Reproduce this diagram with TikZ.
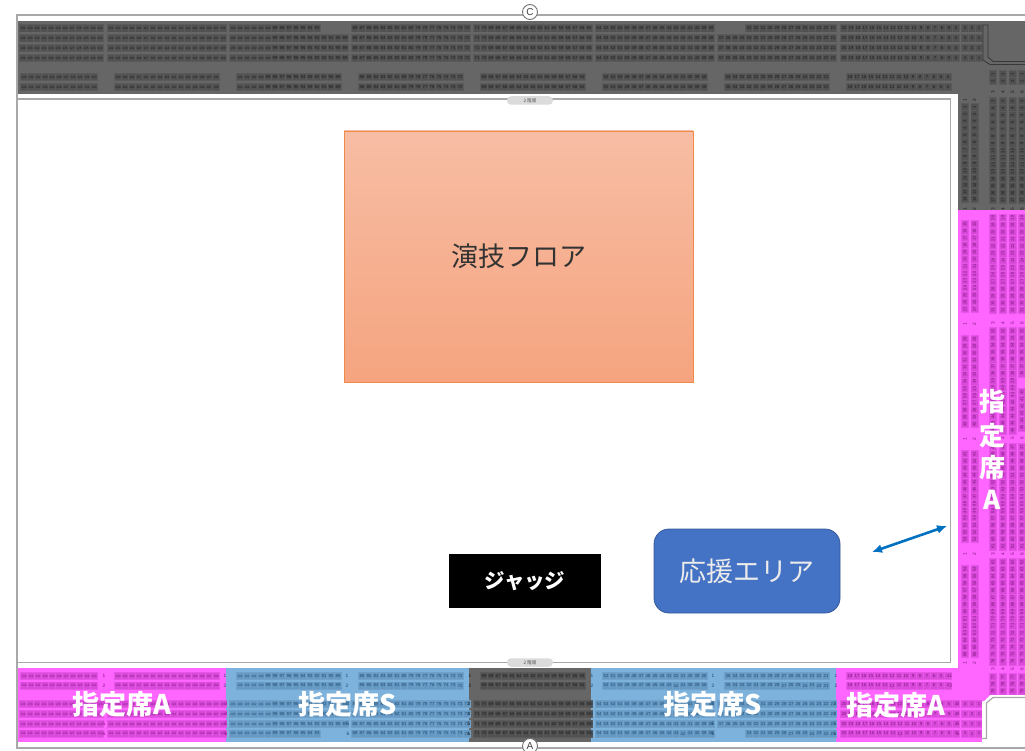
\documentclass[tikz,border=0pt]{standalone}
\usepackage{fontspec}
\setmainfont{Noto Sans CJK JP}
\newfontfamily\seatfont{Liberation Sans}
\definecolor{blkgray}{HTML}{5A5A5A}
\definecolor{cellgray}{HTML}{515151}
\definecolor{numgray}{HTML}{1C1C1C}
\definecolor{blkpink}{HTML}{E656E6}
\definecolor{cellpink}{HTML}{D94ADA}
\definecolor{numpink}{HTML}{7E177E}
\definecolor{blkblue}{HTML}{6FA1CB}
\definecolor{cellblue}{HTML}{6598C3}
\definecolor{numblue}{HTML}{1F4A6C}
\definecolor{zonegray}{HTML}{666666}
\definecolor{zonepink}{HTML}{FF66FF}
\definecolor{zoneblue}{HTML}{7DB2DC}
\definecolor{framegray}{HTML}{A8A8A8}
\definecolor{orangetop}{HTML}{F7BDA4}
\definecolor{orangebot}{HTML}{F5A47F}
\definecolor{orangeline}{HTML}{EE8A4A}
\definecolor{cheerblue}{HTML}{4472C4}
\definecolor{arrowblue}{HTML}{0070C0}
\usetikzlibrary{arrows.meta}
\tikzset{
  seatnum/.style={inner sep=0pt,font=\seatfont\fontsize{4.3}{4.3}\selectfont},
  rowlabel/.style={inner sep=0pt,font=\seatfont\fontsize{4.8}{4.8}\selectfont},
  frameline/.style={draw=framegray,line width=1.2pt},
  pill/.style={draw=none,fill=black!14,rounded corners=4pt,minimum width=46pt,minimum height=8.5pt,inner sep=0pt,font=\fontsize{4.6}{4.6}\selectfont,text=black!70},
  circlab/.style={circle,draw=black!55,fill=white,line width=0.9pt,minimum size=15pt,inner sep=0pt,font=\seatfont\fontsize{10}{10}\selectfont,text=black!75},
  seatlabel/.style={inner sep=0pt,text=white,font=\fontsize{27}{27}\selectfont\bfseries},
  vlabel/.style={inner sep=0pt,text=white,font=\fontsize{26}{26}\selectfont\bfseries},
  floorbox/.style={draw=orangeline,line width=0.8pt,top color=orangetop,bottom color=orangebot,minimum width=349pt,minimum height=251pt,inner sep=0pt,text=black!80,font=\fontsize{27}{27}\selectfont},
  judgebox/.style={fill=black,minimum width=152pt,minimum height=54pt,inner sep=0pt,text=white,font=\fontsize{20.5}{20.5}\selectfont\bfseries},
  cheerbox/.style={fill=cheerblue,draw=cheerblue!80!black,line width=0.8pt,rounded corners=15pt,minimum width=186pt,minimum height=84pt,inner sep=0pt,text=black!8,font=\fontsize{27}{27}\selectfont},
  twoway/.style={draw=arrowblue,line width=2.6pt,{Latex[length=10pt,width=9pt]}-{Latex[length=10pt,width=9pt]}}
}
% x0, y, first number, count, zone
\newcommand\hseats[5]{%
  \fill[blk#5] (#1,#2-4) rectangle (#1+7*#4+1,#2+4);
  \draw[cell#5,line width=6.2pt,dash pattern=on 6pt off 1pt] (#1+1,#2) -- (#1+7*#4+1,#2);
  \pgfmathtruncatemacro\lastidx{#4-1}%
  \foreach \i in {0,...,\lastidx}{%
    \pgfmathtruncatemacro\nn{#3-\i}%
    \path (#1+4+7*\i,#2) node[seatnum,text=num#5]{\ifnum\nn>99 \fontsize{3.1}{3.1}\selectfont\fi\nn};
  }%
}
% x0, y0, first number, count, zone
\newcommand\vseats[5]{%
  \fill[blk#5] (#1,#2) rectangle (#1+8,#2+7.1*#4+1);
  \draw[cell#5,line width=6.2pt,dash pattern=on 6.1pt off 1pt] (#1+4,#2+1) -- (#1+4,#2+7.1*#4+1);
  \pgfmathtruncatemacro\lastidx{#4-1}%
  \foreach \i in {0,...,\lastidx}{%
    \pgfmathtruncatemacro\nn{#3+\i}%
    \path (#1+4,#2+4+7.1*\i) node[seatnum,text=num#5,rotate=90]{\nn};
  }%
}
\newcommand\longrow[1]{%
  \hseats{19}{#1}{134}{12}{\zA}\hseats{107}{#1}{122}{17}{\zA}%
  \hseats{229}{#1}{105}{17}{\zB}\hseats{351}{#1}{88}{17}{\zB}%
  \hseats{473}{#1}{71}{17}{\zC}\hseats{595}{#1}{54}{17}{\zB}%
  \hseats{717}{#1}{37}{17}{\zB}\hseats{840}{#1}{20}{17}{\zD}%
  \hseats{961}{#1}{3}{3}{\zD}%
}
\newcommand\shortrow[1]{%
  \hseats{19}{#1}{134}{12}{\zA}\hseats{107}{#1}{122}{17}{\zA}%
  \hseats{229}{#1}{105}{13}{\zB}\hseats{351}{#1}{88}{17}{\zB}%
  \hseats{473}{#1}{71}{17}{\zC}\hseats{595}{#1}{54}{17}{\zB}%
  \hseats{745}{#1}{33}{13}{\zB}\hseats{840}{#1}{20}{17}{\zD}%
  \hseats{961}{#1}{3}{3}{\zD}%
}
\newcommand\gaprow[1]{%
  \hseats{20}{#1}{133}{11}{\zA}\hseats{114}{#1}{120}{15}{\zA}%
  \hseats{236}{#1}{103}{15}{\zB}\hseats{358}{#1}{86}{15}{\zB}%
  \hseats{480}{#1}{69}{15}{\zC}\hseats{602}{#1}{52}{15}{\zB}%
  \hseats{724}{#1}{35}{15}{\zB}\hseats{846}{#1}{18}{15}{\zD}%
}
\newcommand\rowlabels[3]{%
  \foreach \xx in {#1}{\path (\xx,#2) node[rowlabel,text=#3]{\rownum};}%
}
\begin{document}
\begin{tikzpicture}[x=1pt,y=-1pt]
\useasboundingbox (0,0) rectangle (1025,751);
\fill[white] (0,0) rectangle (1025,751);
% frames
\draw[frameline] (1025,15) -- (17,15) -- (17,748) -- (1025,748);
% zones
\fill[zonegray] (18,21) rectangle (1025,94);
\fill[zonegray] (958,94) rectangle (1025,210);
\fill[zonepink] (958,210) rectangle (1025,695);
\fill[zonepink] (958,668) rectangle (982,742);
\fill[zonepink] (18,668) rectangle (226,742);
\fill[zoneblue] (226,668) rectangle (469,742);
\fill[zonegray] (469,668) rectangle (591,742);
\fill[zoneblue] (591,668) rectangle (836,742);
\fill[zonepink] (836,668) rectangle (982,742);
% inner arena line
\draw[frameline] (17,99) -- (950.5,99) -- (950.5,662.5) -- (17,662.5);
% horizontal seats, top
\def\zA{gray}\def\zB{gray}\def\zC{gray}\def\zD{gray}
\shortrow{28.5}\longrow{38.5}\longrow{48}\longrow{58}
\gaprow{77}\gaprow{87}
% horizontal seats, bottom
\def\zA{pink}\def\zB{blue}\def\zC{gray}\def\zD{pink}
\gaprow{676}\gaprow{685.5}
\longrow{704}\longrow{714}\longrow{724}\shortrow{733.5}
% row labels
\def\rowxs{104,226,348,469,592,713,835,958}
\def\gapxs{104,225,347,470,592,713,836,951}
\foreach \yy/\rownum in {28.5/6,38.5/5,48/4,58/3}{\rowlabels{\rowxs}{\yy}{black!75}}
\foreach \yy/\rownum in {77/2,87/1}{\rowlabels{\gapxs}{\yy}{black!75}}
\foreach \yy/\rownum in {704/3,714/4,724/5,733.5/6}{\foreach \xx/\cc in {104/numpink,226/numpink,348/numblue,469/numgray,592/numblue,713/numblue,835/numblue,958/numpink}{\path (\xx,\yy) node[rowlabel,text=\cc]{\rownum};}}
\foreach \yy/\rownum in {676/1,685.5/2}{\foreach \xx/\cc in {104/numpink,225/numblue,347/numblue,470/numgray,592/numblue,713/numblue,836/numblue,951/numpink}{\path (\xx,\yy) node[rowlabel,text=\cc]{\rownum};}}
% vertical seats, left pair
\foreach \xx in {961,970.5}{
  \vseats{\xx}{103}{1}{14}{gray}
  \vseats{\xx}{220}{15}{13}{pink}
  \vseats{\xx}{335}{28}{13}{pink}
  \vseats{\xx}{450}{41}{13}{pink}
  \vseats{\xx}{565}{54}{13}{pink}
}
% vertical seats, right columns
\foreach \xx in {989,999,1008.5}{
  \vseats{\xx}{70}{1}{2}{gray}
  \vseats{\xx}{97}{3}{15}{gray}
  \vseats{\xx}{214}{18}{14}{pink}
  \vseats{\xx}{327}{32}{15}{pink}
  \vseats{\xx}{443}{47}{15}{pink}
  \vseats{\xx}{558}{62}{15}{pink}
  \vseats{\xx}{673}{77}{3}{pink}
}
\vseats{1018}{70}{1}{2}{gray}
\vseats{1018}{97}{3}{15}{gray}
\vseats{1018}{214}{18}{14}{pink}
\vseats{1018}{327}{32}{7}{pink}
\vseats{1018}{388}{40}{6}{pink}
\vseats{1018}{443}{47}{15}{pink}
\vseats{1018}{558}{62}{15}{pink}
\vseats{1018}{673}{77}{3}{pink}
% column labels
\foreach \yy/\cc in {100/numgray,209/numgray,324/numpink,439/numpink,554/numpink,663/numpink}{
  \path (965,\yy) node[rowlabel,text=\cc,rotate=90]{1};
  \path (974.5,\yy) node[rowlabel,text=\cc,rotate=90]{2};
}
\foreach \yy/\cc in {92/numgray,209/numgray,323/numpink,438/numpink,554/numpink,669/numpink}{
  \foreach \xx/\nn in {993/3,1003/4,1012.5/5,1022/6}{\path (\xx,\yy) node[rowlabel,text=\cc,rotate=90]{\nn};}
}
% corners
\draw[black!78,line width=0.9pt] (983,25) -- (988,25) -- (988,57) -- (993,61.5) -- (1025,61.5);
\draw[black!78,line width=0.9pt] (983,25) -- (983,60) -- (990,64.5) -- (1025,64.5);
\fill[white] (982,695) -- (1025,695) -- (1025,751) -- (982,751) -- cycle;
\fill[zonepink] (982,695) -- (990,695) -- (984,701) -- (982,701) -- cycle;
\draw[framegray,line width=1.2pt] (1025,697.5) -- (993,697.5) -- (986.5,703) -- (986.5,738.5) -- (982,738.5);
% redraw bottom frame over notch
\draw[frameline] (982,748) -- (1025,748);
% pills and circles
\node[pill] (pilltop) at (530,100.5) {2 階席};
\node[pill] (pillbot) at (530,662.5) {2 階席};
\node[circlab] (northmark) at (530,12) {C};
\node[circlab] (southmark) at (530,746) {A};
% main boxes
\node[floorbox] (floorarea) at (518.5,256.5) {演技フロア};
\node[judgebox] (judge) at (525,581) {ジャッジ};
\node[cheerbox] (cheer) at (747,571) {応援エリア};
\coordinate (arrowa) at (872,552);
\coordinate (arrowb) at (947,526);
\draw[twoway] (arrowa) -- (arrowb);
% zone labels
\node[seatlabel] (labA1) at (122,704) {指定席A};
\node[seatlabel] (labS1) at (348,704) {指定席S};
\node[seatlabel] (labS2) at (713,704) {指定席S};
\node[seatlabel] (labA2) at (896,705) {指定席A};
\node[vlabel] (labV1) at (992,402) {指};
\node[vlabel] (labV2) at (992,436) {定};
\node[vlabel] (labV3) at (992,468) {席};
\node[vlabel] (labV4) at (992,500) {A};
\end{tikzpicture}
\end{document}
